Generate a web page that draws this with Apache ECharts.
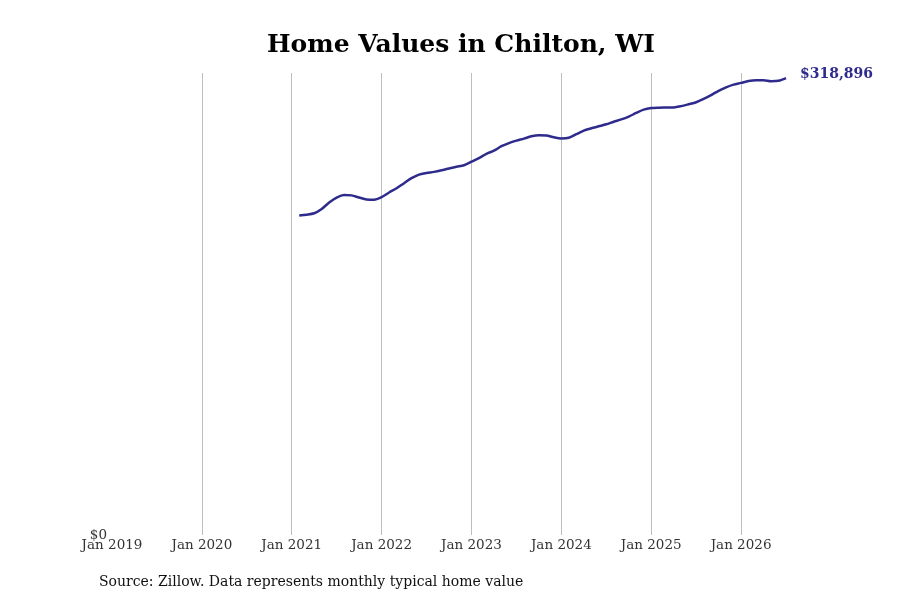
<!DOCTYPE html>
<html>
<head>
<meta charset="utf-8">
<script src="https://cdn.jsdelivr.net/npm/echarts@6/dist/echarts.min.js"></script>
<style>html,body{margin:0;padding:0;background:#fff}#c{width:900px;height:600px}</style>
</head>
<body>
<div id="c"></div>
<script>
var startMonth = '2021-02';
var values = [
  223000, 223500, 224500, 227500, 232000, 235500, 237200, 237000, 235500, 234200, 234000,
  235800, 239000, 242000, 245500, 249000, 251500, 252600, 253400, 254500, 255800, 257000, 258000,
  260500, 263000, 266000, 268200, 271300, 273500, 275200, 276600, 278200, 279000, 278800, 277500,
  276700, 277200, 279700, 282200, 283800, 285200, 286600, 288400, 290000, 292000, 294500, 296800,
  297900, 298200, 298300, 298400, 299300, 300600, 302000, 304300, 307000, 310000, 312400, 314300,
  315500, 316800, 317400, 317400, 316700, 317000, 318896
];
var tickYears = [2019, 2020, 2021, 2022, 2023, 2024, 2025, 2026];
var titleText = 'Home Values in Chilton, WI';
var sourceText = 'Source: Zillow. Data represents monthly typical home value';

var baseYear = tickYears[0];
var sy = parseInt(startMonth.slice(0, 4), 10), sm = parseInt(startMonth.slice(5, 7), 10) - 1;
var startIdx = (sy - baseYear) * 12 + sm;
var data = values.map(function (v, i) { return [startIdx + i, v]; });
var lastIdx = startIdx + values.length - 1;

var font = 'DejaVu Serif';
var chart = echarts.init(document.getElementById('c'));
chart.setOption({
  animation: false,
  textStyle: { fontFamily: font },
  grid: { left: 112, right: 900 - 786, top: 73, bottom: 65, containLabel: false },
  graphic: [
    { type: 'text', x: 461, y: 45, style: { text: titleText, font: 'bold 25px "DejaVu Serif"', fill: '#000', align: 'center', verticalAlign: 'middle' } },
    { type: 'text', x: 99, y: 582, style: { text: sourceText, font: '14px "DejaVu Serif"', fill: '#111', align: 'left', verticalAlign: 'middle' } }
  ],
  xAxis: {
    type: 'value', min: 0, max: lastIdx, interval: 12,
    axisLine: { show: false }, axisTick: { show: false },
    splitLine: { show: true, showMinLine: false, showMaxLine: false, lineStyle: { color: '#bdbdbd', width: 1 } },
    axisLabel: {
      color: '#333', fontSize: 13.5, fontFamily: font, margin: 3, showMaxLabel: false,
      formatter: function (v) { return v % 12 === 0 ? 'Jan ' + (baseYear + v / 12) : ''; }
    }
  },
  yAxis: {
    type: 'value', min: 0, max: 322400, interval: 322400,
    axisLine: { show: false }, axisTick: { show: false }, splitLine: { show: false },
    axisLabel: {
      color: '#333', fontSize: 13.5, fontFamily: font, margin: 5, verticalAlign: 'middle',
      formatter: function (v) { return v === 0 ? '$0' : ''; }
    }
  },
  series: [{
    type: 'line', data: data, smooth: 0.3, symbol: 'none',
    lineStyle: { color: '#2e2b8c', width: 2.5 },
    endLabel: {
      show: true, distance: 14, offset: [0, -4], color: '#2e2b8c',
      fontFamily: font, fontWeight: 'bold', fontSize: 14,
      formatter: function (p) { return '$' + p.value[1].toLocaleString('en-US'); }
    }
  }]
});
</script>
</body>
</html>
